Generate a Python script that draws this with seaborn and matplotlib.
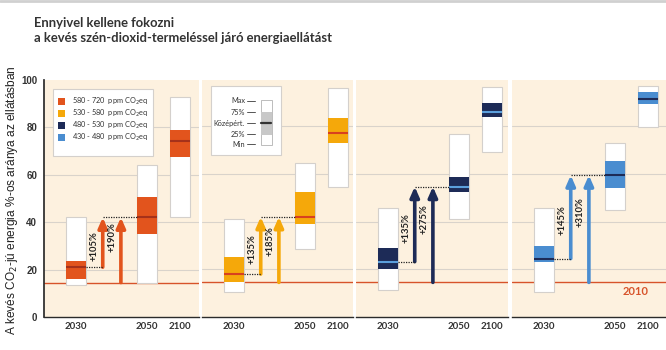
import matplotlib
matplotlib.use("Agg")
import matplotlib.pyplot as plt
import seaborn as sns
from matplotlib.patches import Rectangle
from matplotlib.lines import Line2D

# ppm CO2eq scenario classes, one panel each
scenarios = ["580 - 720", "530 - 580", "480 - 530", "430 - 480"]
colors = ["#e2541d", "#f5a80a", "#1d2b57", "#4a8dd0"]
median_colors = ["#a5311a", "#d8401f", "#5b9fdc", "#1d2b57"]
years = ["2030", "2050", "2100"]

vmin = [[13.4, 14.5, 42.0], [10.5, 28.5, 54.7], [11.3, 41.1, 69.2], [10.6, 44.9, 79.7]]
q25 = [[16.2, 34.8, 67.3], [14.6, 39.0, 73.2], [20.1, 52.5, 83.8], [23.2, 54.2, 89.5]]
med = [[21.0, 42.0, 74.3], [18.0, 42.0, 77.1], [23.2, 54.7, 86.1], [24.5, 59.5, 91.4]]
q75 = [[23.5, 50.5, 78.8], [25.3, 52.5, 83.6], [28.8, 58.7, 89.7], [29.9, 65.4, 94.4]]
vmax = [[42.0, 64.0, 93.0], [41.0, 64.5, 96.3], [45.6, 76.7, 96.5], [45.6, 72.9, 97.1]]

growth_vs_2030 = ["+105%", "+135%", "+135%", "+145%"]
growth_vs_2010 = ["+190%", "+185%", "+275%", "+310%"]
level_2010 = 14.5

sns.set_theme(style="white")
plt.rcParams["font.family"] = ["Lato", "DejaVu Sans"]

W, H = 666, 350
fig = plt.figure(figsize=(W / 100, H / 100), dpi=100)
fig.patch.set_facecolor("white")

bg = "#fdf1df"
grid_c = "#d9d3cb"
line2010 = "#d7532a"
ink = "#333333"

px_unit = 33.0
x_pos = [0.97, 3.12, 4.12]
x_arrow = [1.78, 2.33]
bw = 0.58

lefts = [44, 202, 356, 512]
rights = [199, 353, 508, 666]
y_bottom, y_top = 316.9, 80

for i in range(4):
    l, r = lefts[i], rights[i]
    ax = fig.add_axes([l / W, 1 - y_bottom / H, (r - l) / W, (y_bottom - y_top) / H])
    ax.set_facecolor(bg)
    ax.set_xlim(0, (r - l) / px_unit)
    ax.set_ylim(0, 99.5)
    for s in ["top", "right", "left"]:
        ax.spines[s].set_visible(False)
    ax.spines["bottom"].set_color("#2b2b2b")
    ax.spines["bottom"].set_linewidth(1.0)

    for g in [20, 40, 60, 80]:
        ax.axhline(g, color=grid_c, lw=0.8, zorder=1)
    ax.axhline(level_2010, color=line2010, lw=1.0, zorder=1.5)

    # boxes
    for j in range(3):
        x0 = x_pos[j] - bw / 2
        ax.bar(x_pos[j], vmax[i][j] - vmin[i][j], bottom=vmin[i][j], width=bw,
               color="white", edgecolor="#d4d0cc", linewidth=0.8, zorder=3)
        ax.bar(x_pos[j], q75[i][j] - q25[i][j], bottom=q25[i][j], width=bw,
               color=colors[i], linewidth=0, zorder=4)
        ax.plot([x0, x0 + bw], [med[i][j], med[i][j]], color=median_colors[i],
                lw=1.5, zorder=5, solid_capstyle="butt")

    # arrows 2030 -> 2050 and 2010 -> 2050
    target = med[i][1]
    starts = [med[i][0], level_2010]
    labels = [growth_vs_2030[i], growth_vs_2010[i]]
    mid = (med[i][0] + target) / 2
    for k in range(2):
        ax.annotate("", xy=(x_arrow[k], target), xytext=(x_arrow[k], starts[k]),
                    arrowprops=dict(arrowstyle="-|>,head_width=0.22,head_length=0.5",
                                    lw=2.6, color=colors[i], shrinkA=0, shrinkB=0),
                    zorder=6)
        ax.text(x_arrow[k] - 0.26, mid + (2 if k else -1.5), labels[k],
                rotation=90, ha="center", va="center", fontsize=6.8,
                fontweight="bold", color="#222222", zorder=7)
    ax.plot([x_pos[0] + bw / 2, x_arrow[0]], [med[i][0], med[i][0]],
            color="#222222", lw=0.9, ls=(0, (1, 1)), zorder=6)
    ax.plot([x_arrow[0], x_pos[1] - bw / 2], [target, target],
            color="#222222", lw=0.9, ls=(0, (1, 1)), zorder=6)

    ax.set_xticks(x_pos)
    ax.set_xticklabels(years, fontsize=7, fontweight="bold", color=ink)
    ax.tick_params(axis="x", length=0, pad=4)
    if i == 0:
        ax.spines["left"].set_visible(True)
        ax.spines["left"].set_color("#2b2b2b")
        ax.set_yticks([0, 20, 40, 60, 80, 100])
        ax.set_yticklabels(["0", "20", "40", "60", "80", "100"], fontsize=7,
                           fontweight="bold", color=ink, family="Liberation Sans")
        ax.tick_params(axis="y", length=0, pad=5)
        # colour legend
        ax.add_patch(Rectangle((0.27, 68), 3.03, 28.2, facecolor="white",
                               edgecolor="#d4d0cc", lw=0.8, zorder=8))
        for n, yy in enumerate([91.1, 85.9, 80.9, 75.7]):
            ax.add_patch(Rectangle((0.42, yy - 1.45), 0.22, 2.9, facecolor=colors[n],
                                   lw=0, zorder=9))
            ax.text(0.86, yy, scenarios[n] + "  ppm CO$_2$eq", fontsize=5.3,
                    va="center", ha="left", color=ink, zorder=9)
    else:
        ax.set_yticks([])

    if i == 1:
        # box anatomy legend
        ax.add_patch(Rectangle((0.26, 68), 2.13, 29.0, facecolor="white",
                               edgecolor="#d4d0cc", lw=0.8, zorder=8))
        ax.add_patch(Rectangle((1.78, 72.2), 0.34, 18.9, facecolor="white",
                               edgecolor="#bcbcbc", lw=0.7, zorder=9))
        ax.add_patch(Rectangle((1.78, 76.4), 0.34, 9.6, facecolor="#c8c8c8",
                               lw=0, zorder=10))
        ax.plot([1.8, 2.1], [81.3, 81.3], color="#333333", lw=1.6, zorder=11)
        for name, yy in zip(["Max", "75%", "Középért.", "25%", "Min"],
                            [90.8, 86.0, 81.3, 76.8, 72.5]):
            ax.text(1.30, yy, name, fontsize=5.3, ha="right", va="center",
                    color=ink, zorder=9)
            ax.plot([1.37, 1.6], [yy, yy], color="#555555", lw=0.7, zorder=9)

    if i == 3:
        ax.text(3.75, 10.8, "2010", color=line2010, fontsize=8, fontweight="bold",
                ha="center", va="center", zorder=7)

fig.text(12 / W, 1 - 200 / H, "A kevés CO$_2$-jú energia %-os aránya az ellátásban",
         rotation=90, ha="center", va="center", fontsize=8.6, color="#222222",
         family="Liberation Sans")

fig.text(34 / W, 1 - 17 / H,
         "Ennyivel kellene fokozni\na kevés szén-dioxid-termeléssel járó energiaellátást",
         ha="left", va="top", fontsize=9.4, fontweight="bold", color=ink, linespacing=1.35)

fig.add_artist(Line2D([0, 1], [1 - 1 / H, 1 - 1 / H], color="#d0d0d0", lw=2))

fig.savefig("out.png", dpi=100)
